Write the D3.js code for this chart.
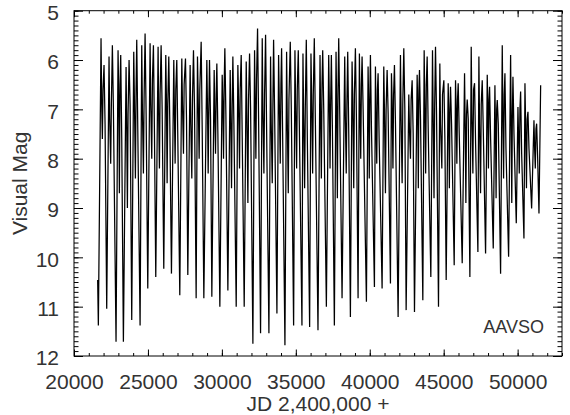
<!DOCTYPE html>
<html><head><meta charset="utf-8">
<script src="https://cdn.jsdelivr.net/npm/d3@7"></script>
<style>
html,body{margin:0;padding:0;background:#fff;}
svg text{font-family:"Liberation Sans",Arial,sans-serif;fill:#333;}
</style></head>
<body><svg id="c" width="570" height="415"></svg>
<script>
// Light-curve points (JD - 2,400,000 and visual magnitude)
const obsJD = [
21600,
21647,21828,21873,21918,21963,22031,22101,
22212,22369,22414,22482,22527,22595,22665,
22843,22979,23024,23069,23114,23159,23229,
23340,23521,23566,23611,23656,23724,23794,
23904,24040,24085,24153,24198,24243,24313,
24469,24581,24626,24694,24739,24807,24877,
24988,25146,25191,25259,25304,25371,25441,
25529,25687,25732,25777,25822,25891,25961,
26071,26206,26251,26297,26342,26410,26480,
26590,26748,26793,26839,26884,26951,27021,
27154,27290,27335,27403,27448,27538,27608,
27696,27854,27899,27967,28012,28080,28150,
28260,28350,28395,28463,28508,28599,28669,
28780,28983,29028,29073,29118,29163,29233,
29321,29479,29524,29570,29615,29660,29730,
29863,30021,30066,30111,30156,30201,30271,
30405,30562,30607,30653,30698,30743,30813,
30969,31081,31126,31194,31239,31307,31377,
31510,31646,31691,31759,31804,31872,31942,
32097,32210,32255,32300,32345,32413,32483,
32616,32729,32774,32842,32887,32955,33025,
33181,33293,33338,33406,33451,33497,33567,
33722,33835,33880,33948,33993,34038,34108,
34264,34377,34422,34490,34535,34625,34695,
34851,34941,34986,35054,35099,35167,35237,
35415,35483,35528,35596,35641,35709,35779,
35934,36024,36069,36137,36182,36250,36320,
36499,36637,36682,36727,36772,36818,36888,
37066,37224,37269,37314,37359,37404,37474,
37607,37720,37765,37810,37855,37901,37971,
38127,38307,38352,38410,38455,38510,38580,
38691,38804,38849,38917,38962,39029,39099,
39210,39300,39345,39390,39435,39481,39551,
39774,39887,39927,39966,40006,40045,40115,
40316,40384,40429,40474,40519,40564,40634,
40835,40948,40993,41061,41106,41174,41244,
41399,41467,41512,41568,41613,41670,41740,
41918,42076,42121,42189,42234,42302,42372,
42460,42640,42685,42753,42798,42866,42936,
43024,43205,43245,43284,43324,43363,43433,
43589,43679,43724,43780,43825,43882,43952,
44130,44243,44288,44345,44390,44446,44516,
44649,44739,44784,44875,44920,45010,45080,
45168,45304,45344,45383,45423,45462,45532,
45710,45800,45845,45890,45935,45981,46051,
46252,46410,46455,46500,46545,46590,46660,
46771,46861,46906,46974,47019,47087,47157,
47313,47380,47425,47493,47538,47606,47676,
47832,47945,47985,48024,48064,48103,48173,
48351,48464,48504,48543,48583,48622,48692,
48847,48960,49005,49050,49095,49141,49211,
49389,49525,49565,49604,49644,49683,49753,
49908,50021,50066,50111,50156,50202,50272,
50427,50495,50540,50597,50642,50698,50768,
50946,51104,51149,51195,51240,51285,51355,
51443,51556
];
const obsMag = [
10.46,
11.38,5.56,6.9,7.6,6.6,6.10,7.3,
11.04,5.93,7.2,8.1,6.9,5.70,7.0,
11.71,5.80,6.7,8.7,6.5,5.90,7.6,
11.71,6.14,7.4,9.0,7.1,6.00,6.9,
11.27,5.83,6.8,8.4,6.6,5.59,7.4,
11.38,5.70,7.0,8.3,6.8,5.46,7.1,
10.63,5.66,6.9,8.0,6.4,5.70,7.5,
10.40,5.73,7.3,8.2,6.7,5.70,7.0,
10.23,5.90,6.8,8.5,6.9,5.93,7.3,
10.33,6.00,7.1,8.1,6.6,6.00,7.6,
10.77,5.97,6.9,7.9,6.5,5.97,7.2,
10.36,6.10,7.3,8.4,6.8,5.80,7.0,
10.83,5.93,6.7,8.0,6.6,5.63,7.4,
10.83,6.00,7.0,8.3,7.0,6.00,7.2,
10.80,6.20,7.2,7.9,6.7,6.07,7.5,
11.00,6.30,6.9,8.0,6.5,5.76,7.1,
10.67,6.20,7.4,8.6,6.9,5.93,7.3,
11.00,6.10,6.8,8.2,6.6,5.90,7.6,
11.00,6.03,7.1,8.9,6.8,5.87,7.0,
11.75,5.80,6.9,8.0,6.4,5.36,7.2,
11.54,5.56,7.0,8.3,6.7,5.49,7.4,
11.54,5.93,7.3,8.5,6.9,5.59,7.1,
11.14,5.90,6.8,8.1,6.5,5.76,7.5,
11.78,5.83,7.2,8.7,6.8,5.63,7.0,
11.38,5.80,6.9,8.2,6.6,5.80,7.3,
11.38,5.87,7.1,8.6,7.0,5.59,7.6,
11.41,5.87,6.7,8.3,6.7,5.56,7.2,
11.48,5.90,7.3,8.4,6.5,5.80,7.0,
11.00,5.90,6.9,8.2,6.8,5.90,7.4,
11.38,5.83,7.0,8.8,6.6,5.56,7.1,
10.83,5.93,7.2,8.3,6.9,5.83,7.5,
11.21,6.03,6.8,8.6,6.7,5.76,7.2,
10.83,5.87,7.1,8.0,6.5,5.93,7.0,
10.90,6.13,6.9,8.4,6.8,5.90,7.4,
10.60,6.13,7.3,8.1,6.6,6.27,7.6,
10.63,6.13,7.0,8.7,7.0,6.20,7.1,
10.53,6.27,6.8,8.2,6.7,6.10,7.3,
11.21,5.90,7.2,8.5,6.9,5.76,7.0,
11.07,6.70,7.4,8.0,6.8,6.41,7.5,
11.11,6.30,7.0,8.6,6.6,6.20,7.2,
10.87,5.80,6.9,8.3,6.5,5.93,7.4,
10.40,5.80,7.1,8.8,6.9,5.73,7.1,
11.00,6.07,7.3,8.2,6.7,6.41,7.6,
10.46,6.47,7.2,8.6,7.0,6.54,7.3,
10.16,6.41,7.0,8.1,6.8,6.47,7.5,
10.12,6.27,7.4,8.9,7.1,6.80,7.2,
10.40,5.73,7.1,8.3,6.6,6.47,7.7,
9.89,5.93,7.3,8.7,6.9,6.41,7.4,
9.92,6.30,7.0,8.2,6.8,6.54,7.6,
9.82,6.51,7.5,8.8,7.0,6.81,7.3,
10.33,5.70,7.2,8.4,6.7,6.27,7.8,
9.99,5.90,7.4,8.9,7.1,6.34,7.5,
9.31,6.95,7.6,8.3,7.0,6.64,7.9,
9.62,6.47,7.3,8.6,7.2,7.05,7.8,
9.01,7.22,7.8,8.2,7.4,7.29,8.0,
9.11,6.51
];
const yTicks = [5,6,7,8,9,10,11,12];
const xTicks = [20000,25000,30000,35000,40000,45000,50000];

const svg = d3.select("#c");
const L=74, R=562, T=10.7, B=356;
const x = d3.scaleLinear().domain([20000,53000]).range([L,R]);
const y = d3.scaleLinear().domain([5,12]).range([T,B]);

const data = obsJD.map((d,i)=>({jd:d,m:obsMag[i]}));
svg.append("path").datum(data)
  .attr("d", d3.line().x(d=>x(d.jd)).y(d=>y(d.m)))
  .attr("fill","none").attr("stroke","#000").attr("stroke-width",1.25)
  .attr("stroke-linejoin","miter").attr("stroke-miterlimit",2);

const yMinor = d3.range(50,121).map(v=>v/10);
const xMinor = d3.range(20000,53001,1000);

function styleAxis(g){ g.select(".domain").remove(); g.selectAll("line").attr("stroke","#000"); }

svg.append("g").attr("transform",`translate(${L},0)`)
  .call(d3.axisLeft(y).tickValues(yMinor).tickSize(-4.5).tickFormat("")).call(styleAxis);
svg.append("g").attr("transform",`translate(${L},0)`)
  .call(d3.axisLeft(y).tickValues(yTicks).tickSize(-9).tickPadding(15).tickFormat(d3.format("d")))
  .call(styleAxis)
  .selectAll("text").attr("font-size",21).attr("dy","0.42em").attr("fill","#333");
svg.append("g").attr("transform",`translate(${R},0)`)
  .call(d3.axisRight(y).tickValues(yMinor).tickSize(-4.5).tickFormat("")).call(styleAxis);
svg.append("g").attr("transform",`translate(${R},0)`)
  .call(d3.axisRight(y).tickValues(yTicks).tickSize(-9).tickFormat("")).call(styleAxis);

svg.append("g").attr("transform",`translate(0,${B})`)
  .call(d3.axisBottom(x).tickValues(xMinor).tickSize(-3).tickFormat("")).call(styleAxis);
svg.append("g").attr("transform",`translate(0,${B})`)
  .call(d3.axisBottom(x).tickValues(xTicks).tickSize(-6.5).tickPadding(18).tickFormat(d3.format("d")))
  .call(styleAxis)
  .selectAll("text").attr("font-size",21).attr("fill","#333");
svg.append("g").attr("transform",`translate(0,${T})`)
  .call(d3.axisTop(x).tickValues(xMinor).tickSize(-3).tickFormat("")).call(styleAxis);
svg.append("g").attr("transform",`translate(0,${T})`)
  .call(d3.axisTop(x).tickValues(xTicks).tickSize(-6.5).tickFormat("")).call(styleAxis);

svg.append("rect").attr("x",L).attr("y",T).attr("width",R-L).attr("height",B-T)
  .attr("fill","none").attr("stroke","#000").attr("stroke-width",1);

svg.append("text").attr("x",(L+R)/2).attr("y",411).attr("text-anchor","middle")
  .attr("font-size",21).text("JD 2,400,000 +");
svg.append("text").attr("transform",`translate(27,${(T+B)/2}) rotate(-90)`)
  .attr("text-anchor","middle").attr("font-size",21).text("Visual Mag");
svg.append("text").attr("x",544).attr("y",333).attr("text-anchor","end")
  .attr("font-size",18).text("AAVSO");
</script></body></html>
